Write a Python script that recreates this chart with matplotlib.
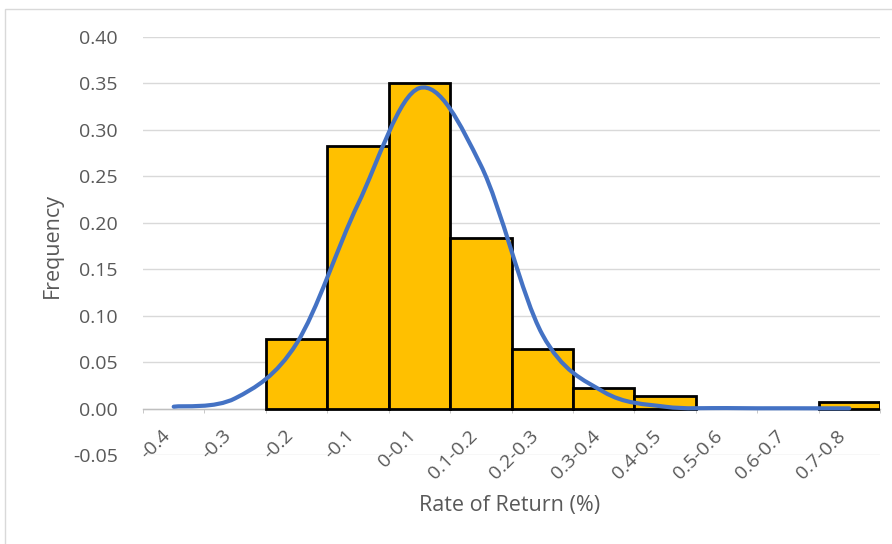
import numpy as np
import matplotlib
matplotlib.use("Agg")
import matplotlib.pyplot as plt
from matplotlib.path import Path
from matplotlib.patches import PathPatch, Rectangle

plt.rcParams['font.family'] = ['Open Sans', 'DejaVu Sans']

# Data
categories = ["-0.4", "-0.3", "-0.2", "-0.1", "0-0.1", "0.1-0.2", "0.2-0.3",
              "0.3-0.4", "0.4-0.5", "0.5-0.6", "0.6-0.7", "0.7-0.8"]
frequency = [0.0, 0.0, 0.075, 0.283, 0.351, 0.184, 0.064, 0.022, 0.014, 0.0, 0.0, 0.007]
fitted = [0.002, 0.011, 0.07, 0.22, 0.345, 0.262, 0.08, 0.018, 0.002, 0.0005, 0.0003, 0.0002]

text_col = "#595959"
W, H = 892, 544
fig = plt.figure(figsize=(W / 100, H / 100), dpi=100)
fig.patches.append(Rectangle((5 / W, -0.01), 1, (H - 9) / H + 0.01, transform=fig.transFigure,
                             fill=False, edgecolor="#D9D9D9", lw=1))
ax = fig.add_axes([143 / W, (H - 455) / H, 737 / W, 418 / H])

x = np.arange(len(categories))
# empty bins get no outline (Excel draws nothing for zero-height bars)
edges = ["black" if v > 0 else "none" for v in frequency]
ax.bar(x, frequency, width=1.0, color="#FFC000", edgecolor=edges, linewidth=2.0, zorder=3)

# smoothed line (Excel style Catmull-Rom -> cubic bezier)
pts = np.column_stack([x, fitted]).astype(float)
verts = [tuple(pts[0])]
codes = [Path.MOVETO]
n = len(pts)
for i in range(n - 1):
    p0 = pts[max(i - 1, 0)]
    p1 = pts[i]
    p2 = pts[i + 1]
    p3 = pts[min(i + 2, n - 1)]
    c1 = p1 + (p2 - p0) / 6
    c2 = p2 - (p3 - p1) / 6
    verts += [tuple(c1), tuple(c2), tuple(p2)]
    codes += [Path.CURVE4] * 3
ax.add_patch(PathPatch(Path(verts, codes), fill=False, edgecolor="#4472C4",
                       lw=3.0, capstyle="round", zorder=4))

ax.set_xlim(-0.5, len(categories) - 0.5)
ax.set_ylim(-0.05, 0.40)
yt = np.arange(-0.05, 0.401, 0.05)
ax.set_yticks(yt)
ax.set_yticklabels([f"{v:.2f}" for v in yt])
ax.yaxis.grid(True, color="#D9D9D9", lw=1.0)
ax.set_axisbelow(True)
for s in ["top", "right", "left"]:
    ax.spines[s].set_visible(False)
ax.spines["bottom"].set_position(("data", 0))
ax.spines["bottom"].set_color("#BFBFBF")
ax.spines["bottom"].set_linewidth(1.0)
ax.spines["bottom"].set_zorder(2)

ax.set_xticks(x)
ax.set_xticklabels(categories, rotation=45, ha="right", va="top")
ax.set_xticks(np.arange(-0.5, len(categories), 1.0), minor=True)
ax.tick_params(axis="x", which="major", length=0, pad=13, labelsize=14, labelcolor=text_col)
ax.tick_params(axis="x", which="minor", length=3, color="#BFBFBF")
ax.tick_params(axis="y", length=0, pad=18, labelsize=14, labelcolor=text_col)

fig.text(510 / W, 1 - 505 / H, "Rate of Return (%)", ha="center", va="center",
         fontsize=15.5, color=text_col)
fig.text(52 / W, 1 - 246 / H, "Frequency", ha="center", va="center",
         rotation=90, fontsize=15.5, color=text_col)

fig.savefig("out.png", dpi=100)
